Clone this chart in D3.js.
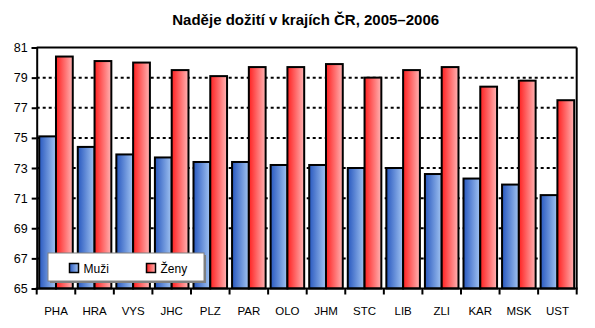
<!DOCTYPE html>
<html><head><meta charset="utf-8">
<script src="https://cdn.jsdelivr.net/npm/d3@7"></script>
<style>body{margin:0;background:#fff;} text{font-family:Arial,"Liberation Sans",sans-serif;}</style>
</head><body>
<svg id="c" width="595" height="328"></svg>
<script>
const title = "Naděje dožití v krajích ČR, 2005–2006";
const categories = ["PHA","HRA","VYS","JHC","PLZ","PAR","OLO","JHM","STC","LIB","ZLI","KAR","MSK","UST"];
const seriesNames = ["Muži","Ženy"];
const muzi = [75.1,74.4,73.9,73.7,73.4,73.4,73.2,73.2,73.0,73.0,72.6,72.3,71.9,71.2];
const zeny = [80.4,80.1,80.0,79.5,79.1,79.7,79.7,79.9,79.0,79.5,79.7,78.4,78.8,77.5];
const yTicks = [65,67,69,71,73,75,77,79,81];

const svg = d3.select("#c");
const L = 36.7, R = 576.7, T = 47.5, B = 288.5;
const x = d3.scaleBand().domain(categories).range([L, R]).paddingInner(0.13).paddingOuter(0.065);
const xs = d3.scaleBand().domain(seriesNames).range([0, x.bandwidth()]);
const y = d3.scaleLinear().domain([65, 81]).range([B, T]);

const defs = svg.append("defs");
function grad(id, c1, c2){
  const g = defs.append("linearGradient").attr("id", id).attr("x1","0").attr("x2","1").attr("y1","0").attr("y2","0");
  g.append("stop").attr("offset","0").attr("stop-color",c1);
  g.append("stop").attr("offset","1").attr("stop-color",c2);
}
grad("gb", "#2858bf", "#a2c4f2");
grad("gr", "#ff2020", "#ffb4b4");
const fills = ["url(#gb)","url(#gr)"];

// title
svg.append("text").attr("x", (L+R)/2 - 1).attr("y", 25).attr("text-anchor","middle")
  .attr("font-size", 15).attr("font-weight","bold").text(title);

// gridlines
svg.append("g").selectAll("line").data(yTicks.filter(d => d>65 && d<81)).join("line")
  .attr("x1", L).attr("x2", R).attr("y1", d=>y(d)).attr("y2", d=>y(d))
  .attr("stroke","#000").attr("stroke-width",2).attr("stroke-dasharray","3,3");

// bars
const data = [muzi, zeny];
const g = svg.append("g");
categories.forEach((c, i) => {
  seriesNames.forEach((s, j) => {
    g.append("rect")
      .attr("x", x(c) + xs(s)).attr("width", xs.bandwidth())
      .attr("y", y(data[j][i])).attr("height", B - y(data[j][i]))
      .attr("fill", fills[j]).attr("stroke","#000").attr("stroke-width",2);
  });
});

// frame top/right
svg.append("line").attr("x1",L).attr("x2",R).attr("y1",T).attr("y2",T).attr("stroke","#000").attr("stroke-width",2);
svg.append("line").attr("x1",R).attr("x2",R).attr("y1",T).attr("y2",B).attr("stroke","#000").attr("stroke-width",2);

// y axis
const ya = svg.append("g").attr("transform",`translate(${L},0)`)
  .call(d3.axisLeft(y).tickValues(yTicks).tickSize(5).tickPadding(4).tickFormat(d3.format("d")));
ya.select(".domain").attr("stroke","#000").attr("stroke-width",2);
ya.selectAll(".tick line").attr("stroke","#000").attr("stroke-width",2);
ya.selectAll("text").attr("font-size",12.5).attr("font-family","Arial, 'Liberation Sans', sans-serif").attr("fill","#000");

// x axis with ticks at band boundaries
const xa = svg.append("g").attr("transform",`translate(0,${B})`)
  .call(d3.axisBottom(x).tickSize(0).tickPadding(18));
xa.select(".domain").remove();
xa.selectAll("text").attr("font-size",11.5).attr("font-family","Arial, 'Liberation Sans', sans-serif").attr("fill","#000");
svg.append("line").attr("x1",L-1).attr("x2",R+1).attr("y1",B).attr("y2",B).attr("stroke","#000").attr("stroke-width",2);
const step = (R - L) / categories.length;
svg.append("g").selectAll("line").data(d3.range(categories.length+1)).join("line")
  .attr("x1", i => L + i*step).attr("x2", i => L + i*step)
  .attr("y1", B).attr("y2", B+6).attr("stroke","#000").attr("stroke-width",2);

// legend
const lg = svg.append("g");
lg.append("rect").attr("x",50).attr("y",255).attr("width",156).attr("height",28).attr("fill","#808080");
lg.append("rect").attr("x",48).attr("y",253).attr("width",156).attr("height",28).attr("fill","#fff").attr("stroke","#808080").attr("stroke-width",1);
const lx = [69.5, 146.5];
seriesNames.forEach((s, j) => {
  lg.append("rect").attr("x", lx[j]).attr("y", 263.5).attr("width", 9).attr("height", 9)
    .attr("fill", fills[j]).attr("stroke","#000").attr("stroke-width",1.5);
  lg.append("text").attr("x", lx[j] + 14).attr("y", 272.5).attr("font-size",12).text(s);
});
</script>
</body></html>
